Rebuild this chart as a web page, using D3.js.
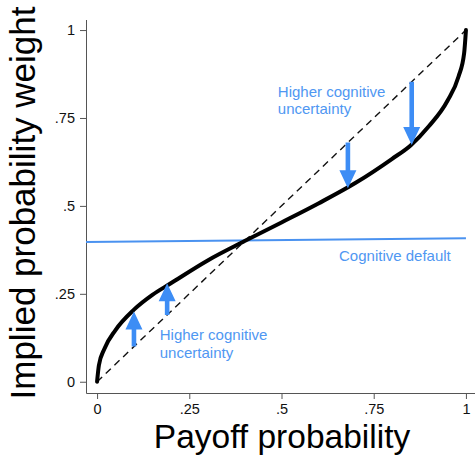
<!DOCTYPE html>
<html>
<head>
<meta charset="utf-8">
<script src="https://cdn.jsdelivr.net/npm/d3@7"></script>
<style>
  body { margin: 0; background: #fff; }
  svg { display: block; font-family: "Liberation Sans", Arial, Helvetica, sans-serif; }
</style>
</head>
<body>
<svg id="chart" width="475" height="457"></svg>
<script>
// weighting curve
const curveX = [0, 0.005, 0.02, 0.05, 0.1, 0.15, 0.2, 0.3, 0.4, 0.5, 0.6, 0.7, 0.8, 0.85, 0.9, 0.95, 0.98, 0.995, 1];
const curveY = [0, 0.047, 0.094, 0.147, 0.205, 0.247, 0.28, 0.345, 0.40, 0.453, 0.507, 0.565, 0.634, 0.672, 0.727, 0.799, 0.868, 0.933, 1];

// cognitive default line
const defaultX = [-0.03, 1];
const defaultY = [0.3975, 0.408];

// arrows
const arrowX = [0.1, 0.19, 0.68, 0.853];
const arrowFrom = [0.1, 0.19, 0.68, 0.853];
const arrowTo = [0.2, 0.28, 0.55, 0.673];

const ticks = [0, 0.25, 0.5, 0.75, 1];
const tickLabels = ["0", ".25", ".5", ".75", "1"];

const svg = d3.select("#chart");
const x = d3.scaleLinear().domain([-0.03, 1.03]).range([86, 477]);
const y = d3.scaleLinear().domain([-0.032, 1.03]).range([393, 19.5]);

const blue = "#3d8df5";
const textBlue = "#4f97f2";

// axes
const xAxis = d3.axisBottom(x).tickValues(ticks).tickFormat((d, i) => tickLabels[i]).tickSize(6).tickPadding(5).tickSizeOuter(0);
const yAxis = d3.axisLeft(y).tickValues(ticks).tickFormat((d, i) => tickLabels[i]).tickSize(6).tickPadding(5).tickSizeOuter(0);

const gx = svg.append("g").attr("transform", "translate(0,393)").call(xAxis);
const gy = svg.append("g").attr("transform", "translate(86,0)").call(yAxis);
[gx, gy].forEach(g => {
  g.select(".domain").attr("stroke", "#555");
  g.selectAll(".tick line").attr("stroke", "#555");
  g.selectAll(".tick text").attr("fill", "#111").style("font-size", "14.5px").style("font-family", "'Liberation Sans', Arial, sans-serif");
});

// diagonal
svg.append("line")
  .attr("x1", x(0)).attr("y1", y(0)).attr("x2", x(1)).attr("y2", y(1))
  .attr("stroke", "#111").attr("stroke-width", 1.4).attr("stroke-dasharray", "7,5");

// default line
const line = d3.line().x(d => x(d[0])).y(d => y(d[1]));
svg.append("path")
  .datum(defaultX.map((v, i) => [v, defaultY[i]]))
  .attr("d", line).attr("fill", "none").attr("stroke", "#4a92f0").attr("stroke-width", 2);

// weighting curve
svg.append("path")
  .datum(curveX.map((v, i) => [v, curveY[i]]))
  .attr("d", line.curve(d3.curveMonotoneX))
  .attr("fill", "none").attr("stroke", "#000").attr("stroke-width", 4).attr("stroke-linecap", "round");

// arrows
const headLen = 18, headHalf = 8.5, shaftHalf = 2.3;
svg.selectAll(".arrow").data(arrowX).join("path")
  .attr("class", "arrow")
  .attr("fill", blue)
  .attr("d", (d, i) => {
    const px = x(d), p0 = y(arrowFrom[i]), p1 = y(arrowTo[i]);
    const dir = p1 > p0 ? 1 : -1;
    const hb = p1 - dir * headLen;
    return `M${px - shaftHalf},${p0}L${px - shaftHalf},${hb}L${px - headHalf},${hb}L${px},${p1}` +
           `L${px + headHalf},${hb}L${px + shaftHalf},${hb}L${px + shaftHalf},${p0}Z`;
  });

// annotations
function note(xv, yv, lines, anchor) {
  const t = svg.append("text").attr("x", x(xv)).attr("y", y(yv))
    .attr("fill", textBlue).style("font-size", "15px").attr("text-anchor", anchor || "start");
  lines.forEach((s, i) => t.append("tspan").attr("x", x(xv)).attr("dy", i ? 17.5 : 0).text(s));
}
note(0.49, 0.81, ["Higher cognitive", "uncertainty"]);
note(0.17, 0.118, ["Higher cognitive", "uncertainty"]);
note(0.656, 0.344, ["Cognitive default"]);

// axis titles
svg.append("text").attr("x", 282).attr("y", 448).attr("text-anchor", "middle")
  .style("font-size", "33.5px").attr("fill", "#000").text("Payoff probability");
svg.append("text").attr("transform", "translate(35,203) rotate(-90)").attr("text-anchor", "middle")
  .style("font-size", "35px").attr("fill", "#000").text("Implied probability weight");
</script>
</body>
</html>
